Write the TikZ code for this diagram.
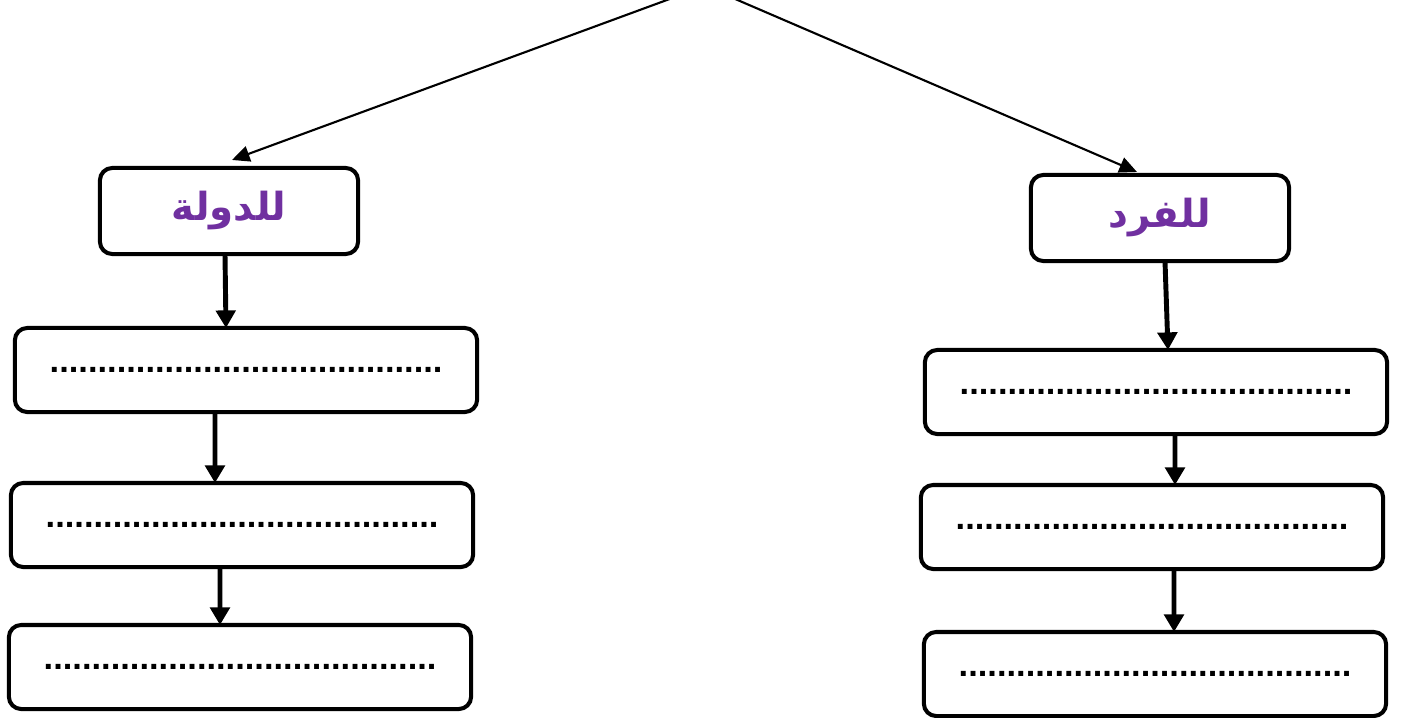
\documentclass[tikz,border=0pt]{standalone}
\usepackage{fontspec}
\setmainfont{Liberation Sans}
\newfontfamily\arabicfont[Script=Arabic]{DejaVu Sans}
\TeXXeTstate=1
\usetikzlibrary{arrows.meta}
\definecolor{labelpurple}{HTML}{7030A0}

\begin{document}
\begin{tikzpicture}[x=0.01cm,y=-0.01cm]


% GLOBAL SETTINGS
\newcommand{\dotline}{.........................................}
\newcommand{\boxline}{1.15pt}
\tikzset{
  headbox/.style={draw, line width=\boxline, rounded corners=3.5pt,
    minimum width=2.58cm, minimum height=0.86cm, inner sep=0pt, outer sep=0pt,
    font=\arabicfont\bfseries\fontsize{11}{13}\selectfont, text=labelpurple},
  fillbox/.style={draw, line width=\boxline, rounded corners=3.5pt,
    minimum width=4.62cm, minimum height=0.84cm, inner sep=0pt, outer sep=0pt,
    font=\bfseries\fontsize{9.8}{12}\selectfont},
  thinarrow/.style={line width=0.6pt, -{Triangle[length=5pt,width=4.5pt]}},
  thickarrow/.style={line width=1.4pt, -{Triangle[length=5pt,width=5.5pt]}}
}
\useasboundingbox (0,0) rectangle (1408,718);

% HEADS
\coordinate (apex) at (705,-14);
\node[headbox] (state) at (229,211) {\beginR للدولة\endR};
\node[headbox] (person) at (1160,218) {\beginR للفرد\endR};

% LEFT COLUMN
\node[fillbox] (L1) at (246,370) {\dotline};
\node[fillbox] (L2) at (242,525) {\dotline};
\node[fillbox] (L3) at (240,667) {\dotline};

% RIGHT COLUMN
\node[fillbox] (R1) at (1156,392) {\dotline};
\node[fillbox] (R2) at (1152,527) {\dotline};
\node[fillbox] (R3) at (1155,674) {\dotline};

% EDGES
\draw[thinarrow] (apex) -- ([xshift=0.03cm,yshift=0.08cm]state.north);
\draw[thinarrow] (apex) -- ([xshift=-0.23cm,yshift=0.03cm]person.north);
\draw[thickarrow] ([xshift=-0.04cm]state.south) -- ([xshift=-0.2cm]L1.north);
\draw[thickarrow] ([xshift=-0.31cm]L1.south) -- ([xshift=-0.27cm]L2.north);
\draw[thickarrow] ([xshift=-0.22cm]L2.south) -- ([xshift=-0.2cm]L3.north);
\draw[thickarrow] ([xshift=0.05cm]person.south) -- ([xshift=0.12cm]R1.north);
\draw[thickarrow] ([xshift=0.19cm]R1.south) -- ([xshift=0.23cm]R2.north);
\draw[thickarrow] ([xshift=0.22cm]R2.south) -- ([xshift=0.19cm]R3.north);

\end{tikzpicture}
\end{document}
